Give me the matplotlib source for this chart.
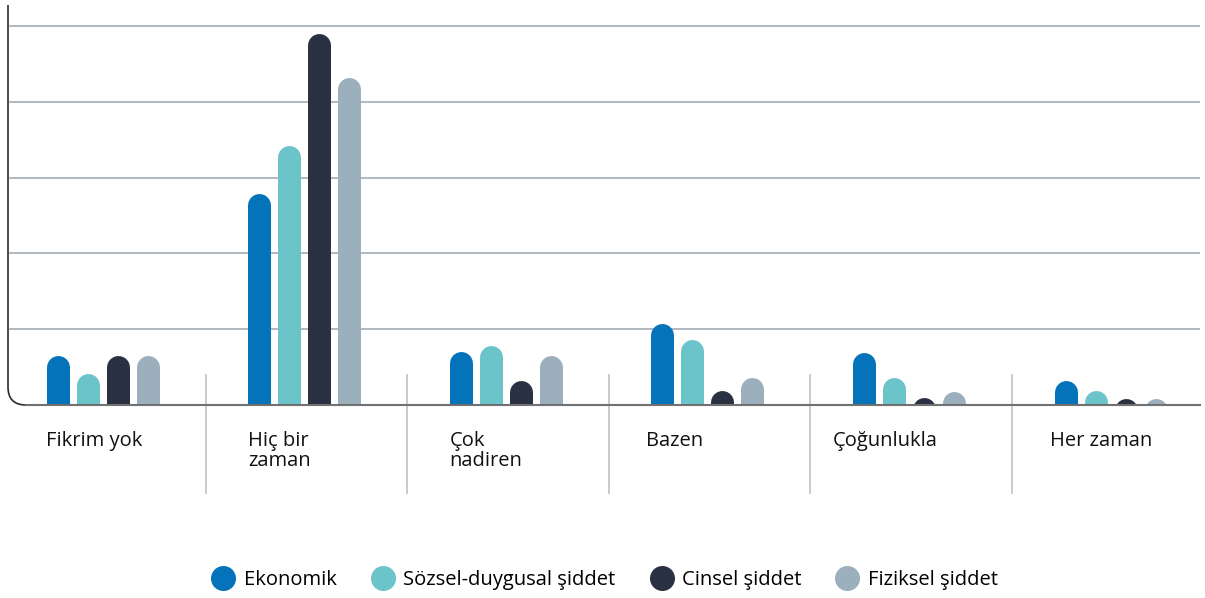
import matplotlib
matplotlib.use("Agg")
import matplotlib.pyplot as plt
from matplotlib.path import Path
from matplotlib.patches import PathPatch
from matplotlib.lines import Line2D
import numpy as np

categories = ["Fikrim yok", "Hiç bir\nzaman", "Çok\nnadiren", "Bazen", "Çoğunlukla", "Her zaman"]
series_names = ["Ekonomik", "Sözsel-duygusal şiddet", "Cinsel şiddet", "Fiziksel şiddet"]
ekonomik = [6.6, 27.9, 7.1, 10.8, 6.9, 3.3]
sozsel = [4.2, 34.2, 7.9, 8.6, 3.6, 1.9]
cinsel = [6.6, 49.0, 3.3, 1.9, 1.0, 0.8]
fiziksel = [6.6, 43.2, 6.5, 3.6, 1.8, 0.8]
series = [ekonomik, sozsel, cinsel, fiziksel]
colors = ["#0473B9", "#6CC4CB", "#2A3143", "#9BAFBC"]
grid_levels = [10, 20, 30, 40, 50]

W, H, DPI = 1205, 598, 100
plt.rcParams["font.family"] = ["Open Sans", "DejaVu Sans"]

fig = plt.figure(figsize=(W / DPI, H / DPI), dpi=DPI)
ax_left, ax_bottom, ax_w, ax_h = 8, 193, 1192, 400  # pixels
ax = fig.add_axes([ax_left / W, ax_bottom / H, ax_w / W, ax_h / H])
ymax = 52.8
xlo, xhi = -0.47, 5.444
ax.set_xlim(xlo, xhi)
ax.set_ylim(0, ymax)
ax.axis("off")

px_per_y = ax_h / ymax
px_per_x = ax_w / (xhi - xlo)
bar_px = 23
step = 30 / px_per_x
cap = (bar_px / 2) / px_per_y
lw_pt = bar_px * 72 / DPI

x = np.arange(len(categories))
for k, (vals, col) in enumerate(zip(series, colors)):
    offset = (k - 1.5) * step
    for xi, v in zip(x, vals):
        # rounded top comes from the round cap, the bottom is clipped at y=0
        ax.plot([xi + offset, xi + offset], [-10, v - cap], color=col,
                lw=lw_pt, solid_capstyle="round", zorder=3)

for g in grid_levels:
    ax.axhline(g, xmin=2 / ax_w, xmax=1, color="#A3ACB4", lw=1.2, zorder=1)

# left spine with a rounded corner into the baseline
r = 18
dx, dy = r / ax_w, r / ax_h
corner = Path([(0, 1), (0, dy), (0, 0), (dx, 0)],
              [Path.MOVETO, Path.LINETO, Path.CURVE3, Path.CURVE3])
ax.add_patch(PathPatch(corner, transform=ax.transAxes, fill=False,
                       ec="#2b2b2b", lw=1.2, clip_on=False, zorder=4))
ax.plot([dx, 1], [0, 0], transform=ax.transAxes, color="#707070", lw=1.5,
        clip_on=False, zorder=4)

# group separators
for xi in x[:-1]:
    ax.plot([xi + 0.51, xi + 0.51], [30 / px_per_y, -88 / px_per_y],
            color="#BEC3C7", lw=1.2, clip_on=False, zorder=1)

label_nudge = [0, 0, 0, -5, -20, -4]
first_left = -1.5 * step - (bar_px / 2) / px_per_x
for xi, lab, nd in zip(x, categories, label_nudge):
    ax.text(xi + first_left + nd / px_per_x, -26 / px_per_y, lab, ha="left", va="top",
            fontsize=14.5, color="#111111", linespacing=1.0)

handles = [Line2D([], [], marker="o", ls="none", ms=17, color=c) for c in colors]
fig.legend(handles, series_names, loc="center", bbox_to_anchor=(0.5, 18 / H),
           ncol=4, frameon=False, fontsize=14.5, handletextpad=0.2,
           columnspacing=1.5, handlelength=1.6)

fig.savefig("out.png", dpi=DPI)
